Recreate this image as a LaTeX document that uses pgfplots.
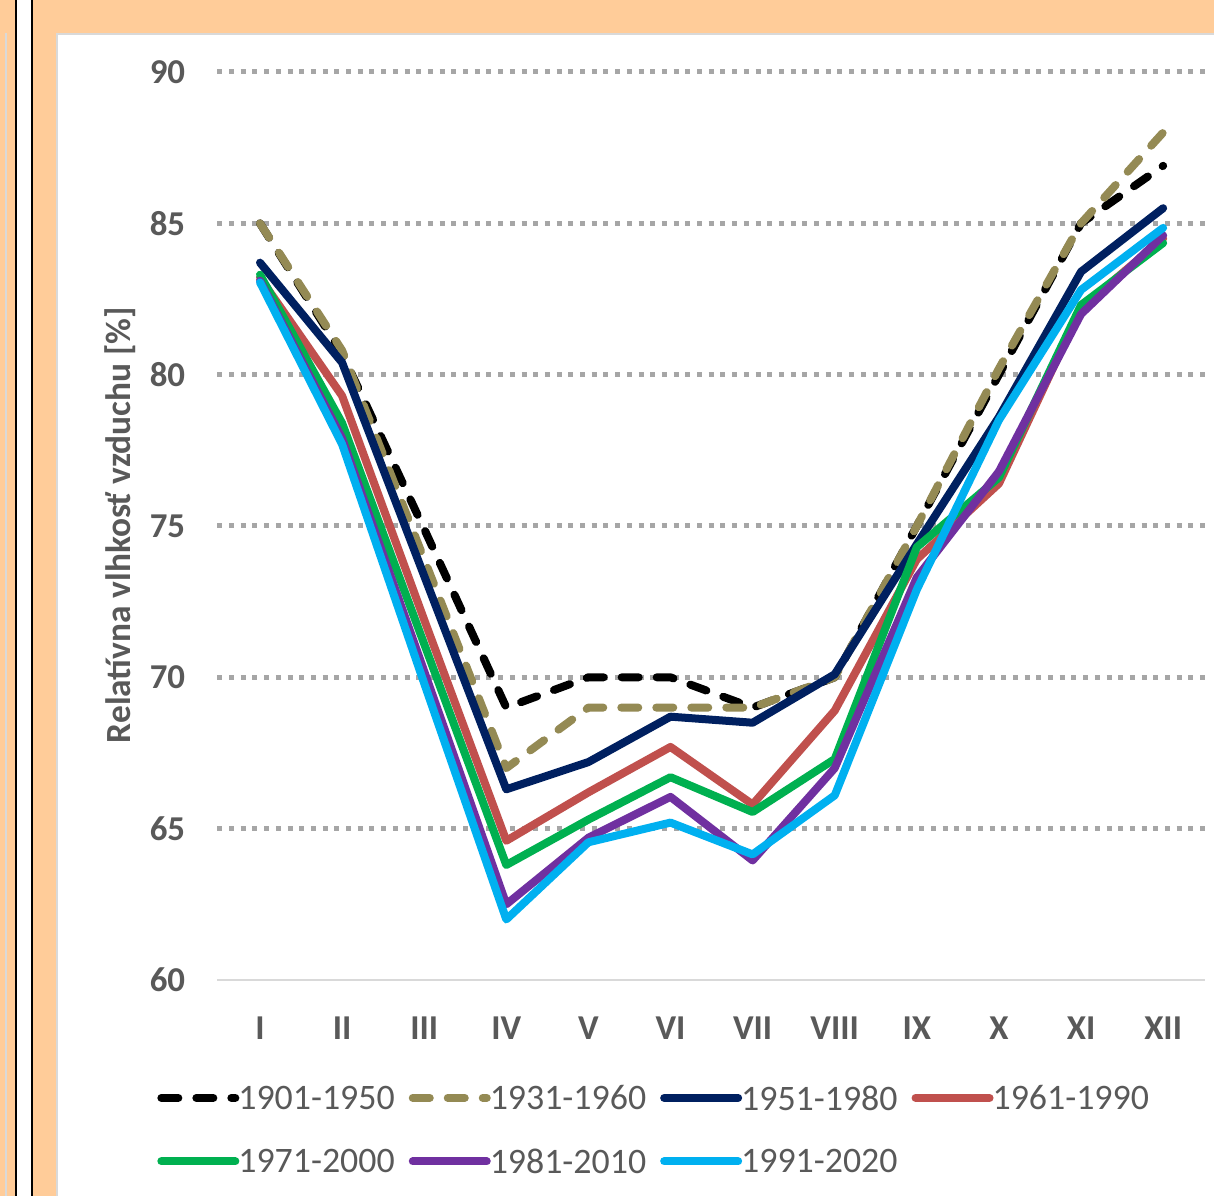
\documentclass[border=0pt]{standalone}
\usepackage{fontspec}
\setmainfont{Carlito}
\usepackage{pgfplots}
\pgfplotsset{compat=1.18}
\definecolor{peach}{HTML}{FFCC99}
\definecolor{panelgrey}{HTML}{D9D9D9}
\definecolor{textgrey}{HTML}{595959}
\definecolor{gridgrey}{HTML}{A6A6A6}
\definecolor{cOlive}{HTML}{948A54}
\definecolor{cNavy}{HTML}{002060}
\definecolor{cRed}{HTML}{C0504D}
\definecolor{cGreen}{HTML}{00B050}
\definecolor{cPurple}{HTML}{7030A0}
\definecolor{cCyan}{HTML}{00B0F0}
\begin{document}
\begin{tikzpicture}
\begin{scope}[x=1bp,y=1bp]
\path[use as bounding box] (0,0) rectangle (1214,1196);
\fill[peach] (0,0) rectangle (1214,1196);
\draw[line width=1.5bp, panelgrey] (6,0) -- (6,1163);
\fill[white] (16,0) rectangle (32,1196);
\draw[line width=1.5bp, black] (16,0) -- (16,1196);
\draw[line width=1.5bp, black] (32,0) -- (32,1196);
\filldraw[fill=white, draw=panelgrey, line width=2bp] (57,-5) rectangle (1222,1162);
\end{scope}
\begin{axis}[
  anchor=south west, at={(217.3bp,216bp)},
  scale only axis, width=987.7bp, height=908bp,
  xmin=-0.52, xmax=11.51, ymin=60, ymax=90,
  axis line style={draw=none},
  xtick={0,1,2,3,4,5,6,7,8,9,10,11},
  xticklabels={I,II,III,IV,V,VI,VII,VIII,IX,X,XI,XII},
  ytick={65,70,75,80,85,90},
  extra y ticks={60},
  extra y tick style={grid style={solid, draw=panelgrey, line width=2bp}},
  ymajorgrids,
  grid style={draw=gridgrey, line width=5bp, dash pattern=on 5bp off 6.7bp},
  tick style={draw=none}, major tick length=0pt,
  /pgf/number format/assume math mode=true,
  ticklabel style={font=\bfseries\fontsize{35}{42}\selectfont, text=textgrey, inner sep=0pt},
  yticklabel style={anchor=east},
  yticklabel shift=32bp,
  xticklabel style={anchor=north},
  xticklabel shift=37bp,
  ylabel={Relatívna vlhkosť vzduchu [\%]},
  ylabel style={font=\bfseries\fontsize{35.5}{42}\selectfont, text=textgrey, at={(axis description cs:-0.0985,0.501)}, anchor=center},
  legend columns=4,
  legend cell align=left,
  legend image code/.code={\draw[#1] (0bp,0bp) -- (74bp,0bp);},
  legend style={at={(axis description cs:-0.0607,-0.1163)}, anchor=north west,
    draw=none, fill=none, inner sep=0pt, outer sep=0pt,
    font=\fontsize{36}{43}\selectfont, text=textgrey,
    nodes={inner sep=0pt, text depth=0pt},
    row sep=39bp,
    /tikz/every odd column/.append style={column sep=-1bp},
    /tikz/every even column/.append style={column sep=14bp}},
  every axis plot/.append style={line width=8bp, line cap=round, line join=round},
]
\addplot[black, dash pattern=on 17bp off 18bp] coordinates {(0,85.0) (1,80.7) (2,74.9) (3,69.0) (4,70.0) (5,70.0) (6,69.0) (7,70.0) (8,75.0) (9,80.0) (10,85.0) (11,86.9)};
\addlegendentry{1901-1950}
\addplot[cOlive, dash pattern=on 17bp off 18bp] coordinates {(0,85.0) (1,80.8) (2,73.9) (3,67.0) (4,69.0) (5,69.0) (6,69.0) (7,70.0) (8,75.0) (9,80.2) (10,85.0) (11,88.0)};
\addlegendentry{1931-1960}
\addplot[cNavy] coordinates {(0,83.7) (1,80.4) (2,73.35) (3,66.3) (4,67.2) (5,68.7) (6,68.5) (7,70.1) (8,74.4) (9,78.6) (10,83.4) (11,85.5)};
\addlegendentry{1951-1980}
\addplot[cRed] coordinates {(0,83.2) (1,79.3) (2,71.9) (3,64.6) (4,66.2) (5,67.7) (6,65.8) (7,68.9) (8,73.9) (9,76.4) (10,82.2) (11,84.5)};
\addlegendentry{1961-1990}
\addplot[cGreen] coordinates {(0,83.3) (1,78.4) (2,71.1) (3,63.8) (4,65.3) (5,66.7) (6,65.55) (7,67.3) (8,74.3) (9,76.6) (10,82.3) (11,84.35)};
\addlegendentry{1971-2000}
\addplot[cPurple] coordinates {(0,83.1) (1,77.9) (2,70.2) (3,62.5) (4,64.7) (5,66.05) (6,63.95) (7,67.0) (8,73.3) (9,76.8) (10,82.0) (11,84.6)};
\addlegendentry{1981-2010}
\addplot[cCyan] coordinates {(0,83.05) (1,77.7) (2,69.8) (3,62.0) (4,64.55) (5,65.2) (6,64.15) (7,66.1) (8,72.9) (9,78.5) (10,82.8) (11,84.85)};
\addlegendentry{1991-2020}
\end{axis}
\end{tikzpicture}
\end{document}
